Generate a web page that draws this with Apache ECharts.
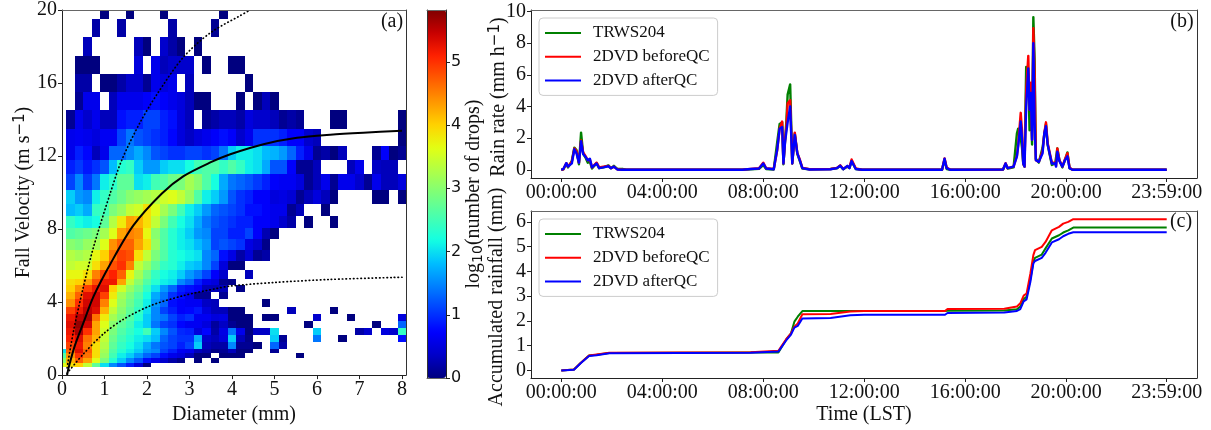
<!DOCTYPE html>
<html>
<head>
<meta charset="utf-8">
<title>2DVD rain</title>
<script src="https://cdn.jsdelivr.net/npm/echarts@6/dist/echarts.min.js"></script>
<style>
html, body { margin: 0; padding: 0; background: #fff; }
#main { width: 1211px; height: 430px; }
</style>
</head>
<body>
<div id="main"></div>
<script>
const _ = null;

// bin edges of panel (a)
const diamEdges = [-0.1, 0.1, 0.3, 0.5, 0.7, 0.9, 1.1, 1.3, 1.5, 1.7, 1.9, 2.1, 2.3, 2.5, 2.7, 2.9, 3.1, 3.3, 3.5, 3.7, 3.9, 4.1,
    4.3, 4.5, 4.7, 4.9, 5.1, 5.3, 5.5, 5.7, 5.9, 6.1, 6.3, 6.5, 6.7, 6.9, 7.1, 7.3, 7.5, 7.7, 7.9, 8.1];
const velEdges = [20, 19.5, 18.5, 17.5, 16.5, 15.5, 14.5, 13.48, 12.57, 11.78, 11.0, 10.16, 9.4, 8.73, 8.08, 7.46, 6.85, 6.27,
    5.74, 5.29, 4.93, 4.55, 4.15, 3.73, 3.37, 2.97, 2.57, 2.17, 1.8, 1.43, 1.2, 0.95, 0.67, 0.43];

// log10(number of drops), top row first, one column per diameter bin
const heatRows = [
    [_, _,_,_,_,0,_,_,0,_,_, _,0,_,_,_,_,_,_,0,_, _,_,_,_,_,_,_,_,_,_, _,_,_,_,_,_,_,_,_,_],
    [_, _,_,_,.2,_,_,.2,_,_,_, _,_,.2,_,_,_,_,.1,_,_, _,_,_,_,_,_,_,_,_,_, _,_,_,_,_,_,_,_,_,_],
    [_, _,_,.3,_,_,_,_,_,.3,0, _,.4,.2,0,_,0,_,_,_,_, _,_,_,_,_,_,_,_,_,_, _,_,_,_,_,_,_,_,_,_],
    [_, _,0,0,0,_,_,_,_,.5,_, .6,.3,.4,.4,.4,_,0,_,_,0, 0,_,_,_,_,_,_,_,_,_, _,_,_,_,_,_,_,_,_,_],
    [_, _,.2,.2,_,0,0,.2,.4,.4,.1, .6,.5,.6,_,.3,_,_,_,_,_, _,0,_,_,_,_,_,_,_,_, _,_,_,_,_,_,_,_,_,_],
    [_, _,.1,.6,.6,_,.3,.6,.6,.6,.7, .8,.7,.6,.5,.3,0,0,_,_,_, 0,_,0,.3,0,_,_,_,_,_, _,_,_,_,_,_,_,_,_,_],
    [_, .1,.6,.4,.6,.3,.3,.8,.9,.9,1.1, 1.1,.9,.8,.5,.3,_,.1,.2,.3,.3, .2,.5,.4,.4,.3,.1,.2,.1,_,_, _,0,0,_,_,_,_,_,_,0],
    [_, .6,.65,.6,.5,.65,.65,1.1,1.4,1.2,1.1, 1,.9,.75,.5,.35,.5,.6,.7,.8,.7, .4,.6,1,1,1,.9,.7,.7,.4,.3, _,_,_,_,_,_,_,_,_,0],
    [_, .6,.9,.75,.3,.6,1.3,1.3,1.5,1.7,1.5, 1.2,1.1,1,1,1.1,1.1,1,1.1,1.4,1.9, 2.1,2.1,2,1.8,1.75,1.6,1.3,.9,.6,.1, .2,0,.3,_,_,_,.1,.7,0,.1],
    [_, .9,1.05,.85,1,1.2,1.8,2.3,2.4,1.9,1.6, 1.6,1.9,2,2,2.2,2.5,2.6,2.6,2.4,2.6, 2.4,2.1,2,1.7,1.2,1.2,.7,.1,.1,.3, _,_,_,.3,.6,_,.35,.3,.3,_],
    [_, 1.1,1.5,1.05,1.4,2.1,2.35,2.7,2.7,2,2.1, 2.5,2.6,2.8,2.9,3.2,3,2.6,2.2,1.7,1.4, 1.3,1.2,1.05,.9,.7,.65,.65,.5,.1,.3, .6,.1,.6,.6,.4,.1,.6,.3,.3,.5],
    [_, 1.9,1.6,1.5,2.1,2.4,2.6,2.8,3,3.1,3.2, 3.3,3.5,3.6,3.4,3.1,2.6,2.1,1.9,1.6,1.2, 1,.9,.7,.7,.5,.55,.45,.1,.3,.5, .3,0,_,_,_,_,0,0,_,0],
    [_, 1.8,1.9,1.7,2.4,2.5,2.9,3.1,3.4,3.5,3.9, 3.6,3.2,2.9,2.5,2.1,1.9,1.6,1.3,1.2,1.1, 1,.8,.8,.7,.6,.6,.1,.3,_,_, 0,_,_,_,_,_,_,_,_,_],
    [_, 2.4,2.2,2.1,2.2,2.7,3.3,3.8,4.3,4.2,3.9, 3.4,2.9,2.5,2.2,2,1.7,1.4,1.2,1.1,1, .9,.9,.7,.7,.6,.4,.2,_,0,_, _,0,_,_,_,_,_,_,_,_],
    [_, 2.6,2.7,2.8,2.9,3.2,3.6,4.3,4.5,4.4,3.7, 3,2.6,2.3,2.1,1.9,1.6,1.5,1.1,1.1,.9, .9,1.1,.7,.25,0,_,_,_,_,_, _,_,_,_,_,_,_,_,_,_],
    [_, 3,2.9,3.1,3.2,3.6,4.4,4.7,4.7,4.3,3.9, 3.1,2.6,2.3,2.1,2,1.8,1.6,1.1,1.2,1.1, 1,.55,.4,.05,_,_,_,_,_,_, _,_,_,_,_,_,_,_,_,_],
    [_, 3.3,3.2,3.3,3.7,4,4.6,4.9,4.8,3.9,3.4, 2.9,2.6,2.3,2.2,2.1,2,1.5,1.3,.8,.55, .2,.45,.1,.2,_,_,_,_,_,_, _,_,_,_,_,_,_,_,_,_],
    [_, 3.4,3.5,3.5,3.9,4.3,4.8,5,4.5,3.4,3.1, 2.7,2.4,2.3,2.1,1.9,1.8,1.5,1.1,.5,0, 0,_,_,_,_,_,_,_,_,_, _,_,_,_,_,_,_,_,_,_],
    [_, 3.7,3.7,3.9,4.5,4.9,5.1,4.7,3.7,3.2,2.8, 2.4,2.2,2.1,1.9,1.6,1.4,1.1,.7,.4,_, _,.3,_,_,_,_,_,_,_,_, _,_,_,_,_,_,_,_,_,_],
    [_, 3.9,4,4.3,4.8,5.2,5.2,4.3,3.4,3,2.6, 2.3,2.1,2,1.5,1.3,.9,.6,.5,.1,.05, _,_,_,_,_,_,_,_,_,_, _,_,_,_,_,_,_,_,_,_],
    [_, 4,4.4,4.9,5.2,5.3,4,3.5,3.1,2.8,2.4, 2,1.6,1.3,.9,.8,.7,.3,.3,.3,_, .05,_,_,_,_,_,_,_,_,_, _,_,_,_,_,_,_,_,_,_],
    [_, 4.2,4.7,5.3,5.4,4.9,3.8,3.2,2.9,2.6,2.2, 1.7,1.4,1,.8,.6,.1,.1,_,.1,_, _,_,_,_,_,_,_,_,_,_, _,_,_,_,_,_,_,_,_,_],
    [_, 4.4,5,5.4,5.4,4.5,3.6,3.1,2.8,2.5,2.1, 1.6,1.3,.8,.7,.65,.65,.35,.3,_,_, _,_,_,0,_,_,_,_,_,_, _,_,_,_,_,_,_,_,_,_],
    [_, 4.9,5.2,5.5,5.3,4.2,3.4,3,2.7,2.4,2, 1.5,1.1,.9,.7,.75,.85,.5,.3,.3,0, 0,_,_,_,_,_,.3,_,_,_, _,0,_,_,_,_,_,_,_,_],
    [_, 5.2,5.5,5.6,4.6,3.8,3.2,2.9,2.6,2.3,1.9, 1.5,1.4,1.1,.9,1,.65,.65,.5,.55,0, 0,0,_,0,0,_,_,_,_,.4, _,_,_,0,_,_,_,_,_,.5],
    [_, 5.3,5.7,5.4,4.3,3.6,3,2.7,2.5,2.1,1.9, 1.4,1.1,1,.75,.65,.65,.5,.15,.35,.1, 0,0,_,_,_,_,_,_,0,_, _,_,_,_,_,_,0,_,_,1.3],
    [_, 5.2,5.6,5,4.3,3.5,2.9,2.6,2.4,2.2,2.5, 1.9,1.5,1.2,.95,.9,.5,.75,.2,.55,1.4, .6,0,.35,.35,2,_,_,_,_,1.9, _,_,_,_,.2,.4,_,.5,.4,2.4],
    [_, 5.1,5.3,4.6,4.2,3.4,2.8,2.5,2.3,2.1,2, 1.8,1.3,1.1,1,1,1.7,.4,.3,.5,1.9, .3,.05,_,_,1.9,.1,_,_,_,1.4, _,_,0,_,_,_,_,_,_,.8],
    [_, 4.9,5.2,4.5,3.9,3.3,2.7,2.4,2.2,2,1.7, 1.4,1.2,1.1,.9,1.1,1.9,.3,.2,.2,1.5, .1,.1,0,_,1.3,.2,_,_,_,_, _,_,_,_,_,_,_,_,_,_],
    [2, 4.7,5.3,4.7,3.9,3.2,2.6,2.3,2.1,1.9,1.6, 1.5,1.1,.9,.65,.6,.3,.2,.05,.1,.3, 0,0,_,_,.1,_,_,_,_,_, _,_,_,_,_,_,_,_,_,_],
    [2.6, 4.4,5,4.6,3.9,3.1,2.5,2.1,1.9,1.6,1.3, 1.1,.8,.6,.5,.3,0,0,_,0,0, 0,_,_,_,_,_,_,0,_,_, _,_,_,_,_,_,_,_,_,_],
    [3, 4.2,4.7,4.3,3.6,2.9,2.3,1.9,1.5,1.2,.8, .6,.4,.2,.05,_,0,_,0,_,_, _,_,_,_,_,_,_,_,_,_, _,_,_,_,_,_,_,_,_,_],
    [3.6, 3.9,4,3.4,2.7,2,1.5,1.2,.9,.5,0, _,_,_,_,_,_,_,_,_,_, _,_,_,_,_,_,_,_,_,_, _,_,_,_,_,_,_,_,_,_]
];

// curves over the heat map: [diameter, velocity]
const solidCurve = [[.12,0],[.155,.4],[.3,1.6],[.51,2.9],[.74,4.3],[1.14,6.1],[1.68,8.2],[2.35,9.95],[2.86,10.9],[3.49,11.65],[3.96,12.1],[4.74,12.65],[5.53,13],[6.31,13.17],[7.09,13.28],[8,13.38]];
const upperCurve = [[.12,.4],[.27,2.4],[.5,4.8],[.74,7],[1.14,10],[1.41,11.8],[1.84,13.85],[2.24,15.4],[2.85,17.4],[3.49,18.75],[4.2,19.7],[4.43,20]];
const lowerCurve = [[.12,.1],[.5,1.15],[.97,2.25],[1.44,3.05],[2.08,3.8],[2.85,4.35],[3.65,4.75],[3.96,4.88],[4.97,5.07],[6.31,5.24],[8,5.36]];

// panel (b), minutes from midnight and rain rate
const rateTime = [0,5,12,16,20,25,31,36,42,47,52,58,63,68,73,84,90,100,112,118,125,133,145,155,430,450,470,480,487,505,513,519,525,528,532,535,538,544,549,555,561,567,573,590,640,655,663,670,680,685,690,700,715,905,911,916,925,1050,1056,1061,1075,1083,1086,1092,1095,1098,1101,1105,1110,1113,1116,1119,1122,1125,1128,1135,1144,1148,1152,1156,1158,1166,1174,1176,1179,1184,1191,1197,1203,1208,1215,1439];
const rateTrws = [0,.03,.38,.15,.1,.55,1.4,1.25,.35,2.35,1,.75,.45,.5,.08,.42,.1,.15,.28,.1,.25,.05,.06,0,0,.03,.06,.3,.05,.02,1.7,2.9,3,.35,1.9,3.1,4.75,5.4,.4,2.3,1,.55,.08,.03,.05,.1,.25,.03,.2,.12,.55,.05,0,0,.65,.05,0,.02,.35,.08,.15,2.3,2.6,2,1.4,.4,.2,6.5,6,2.5,4.5,1.6,9.65,7,.7,.45,1.4,2.2,2.9,1.6,1.6,.3,.4,.3,1.35,.6,.15,.6,1.1,.1,0,0];
const rateBefore = [0,.03,.42,.2,.1,.5,1.35,1.2,.45,1.85,1.1,.85,.6,.65,.15,.45,.15,.2,.25,.1,.2,.03,0,0,0,.06,.1,.45,.1,.05,1.2,2.6,3.05,.4,1.9,2.7,4.2,4.4,.4,2.35,1.05,.65,.12,.03,.05,.12,.28,.05,.22,.15,.65,.08,0,0,.72,.15,0,.02,.42,.1,.2,.9,1.6,3.6,2.5,.4,.2,5,7.2,3.8,5.5,1.9,8.95,6,.6,.5,1.2,2.3,3,1.7,1.65,.45,.45,.25,1.35,.6,.2,.65,1.05,.15,0,0];
const rateAfter = [0,.05,.42,.2,.1,.4,1.3,1.05,.45,1.8,1,.8,.6,.7,.15,.4,.1,.15,.22,.1,.2,.02,0,0,0,.05,.08,.4,.08,.03,1.25,2.6,2.7,.4,1.8,2.4,3,4,.4,2.2,1.05,.6,.1,.02,.03,.1,.25,.03,.25,.1,.55,.05,0,0,.7,.1,0,.02,.4,.1,.2,.85,1.5,3.05,2,.4,.2,4,6.4,3.8,4.85,1.9,8,3,.6,.5,1.05,2.3,2.75,1.6,1.6,.4,.4,.2,1.15,.55,.2,.6,.85,.1,0,0];

// panel (c), accumulated rainfall
const accTime = [0,30,46,66,84,114,450,516,534,546,554,562,573,640,687,720,912,918,1053,1083,1091,1099,1106,1115,1122,1126,1142,1151,1166,1183,1193,1205,1217,1439];
const accTrws = [0,.04,.3,.6,.63,.7,.72,.72,1.23,1.5,1.97,2.17,2.4,2.4,2.4,2.4,2.4,2.41,2.42,2.47,2.58,2.88,2.98,3.69,4.39,4.55,4.68,4.93,5.33,5.46,5.57,5.66,5.77,5.77];
const accBefore = [0,.04,.3,.6,.64,.71,.73,.79,1.25,1.5,1.77,1.9,2.27,2.28,2.38,2.4,2.4,2.48,2.49,2.58,2.71,3.02,3.11,3.92,4.66,4.86,4.99,5.19,5.66,5.8,5.93,6,6.11,6.11];
const accAfter = [0,.03,.29,.58,.61,.69,.71,.76,1.2,1.45,1.73,1.8,2.1,2.12,2.23,2.25,2.25,2.32,2.34,2.4,2.48,2.79,2.87,3.58,4.32,4.42,4.55,4.75,5.17,5.3,5.42,5.52,5.58,5.58];

const seriesNames = ['TRWS204', '2DVD beforeQC', '2DVD afterQC'];
const seriesColors = ['#008000', '#ff0000', '#0000ff'];

// ticks
const diamTicks = [0, 1, 2, 3, 4, 5, 6, 7, 8];
const velTicks = [0, 4, 8, 12, 16, 20];
const barTicks = [0, 1, 2, 3, 4, 5];
const rateTicks = [0, 2, 4, 6, 8, 10];
const accTicks = [0, 1, 2, 3, 4, 5, 6];
const timeTicks = [0, 240, 480, 720, 960, 1200, 1439];
const timeLabels = ['00:00:00', '04:00:00', '08:00:00', '12:00:00', '16:00:00', '20:00:00', '23:59:00'];

// matplotlib jet
const jet = ['#00007f','#0000c8','#0000ff','#0040ff','#0080ff','#00bfff','#14ffe2','#48ffaf','#7bff7b','#afff48','#e2ff14','#ffd200','#ff9700','#ff5c00','#ff2100','#c80000','#7f0000'];

const serif = '"Liberation Serif", "Times New Roman", serif';
const ink = '#111';

let cells = [];
heatRows.forEach(function (row, r) {
    row.forEach(function (v, c) {
        if (v !== null) {
            cells.push([diamEdges[c], diamEdges[c + 1], velEdges[r + 1], velEdges[r], v]);
        }
    });
});

function zip(xs, ys) {
    return xs.map(function (x, i) { return [x, ys[i]]; });
}

const grids = [
    { left: 62, top: 10, width: 344, height: 368 },
    { left: 427, top: 10, width: 19, height: 368 },
    { left: 531, top: 10, width: 666, height: 168 },
    { left: 531, top: 211, width: 666, height: 167 }
];

function mainX(gridIndex, min, max, ticks, labels, name, nameGap) {
    return {
        type: 'value', gridIndex: gridIndex, min: min, max: max, z: 5, splitLine: { show: false },
        name: name, nameLocation: 'middle', nameGap: nameGap,
        nameTextStyle: { fontFamily: serif, fontSize: 20, color: ink },
        axisLine: { show: true, onZero: false, lineStyle: { color: '#222' } },
        axisTick: { show: true, length: 4, customValues: ticks, lineStyle: { color: '#222' } },
        axisLabel: {
            show: true, customValues: ticks, margin: 5, fontFamily: serif, fontSize: 20, color: ink,
            showMinLabel: true, showMaxLabel: true,
            formatter: function (v) {
                if (!labels) return v;
                return labels[ticks.indexOf(v)];
            }
        }
    };
}

function mainY(gridIndex, min, max, ticks, name, nameGap, namePadding, font, position) {
    return {
        type: 'value', gridIndex: gridIndex, min: min, max: max, z: 5, position: position || 'left',
        splitLine: { show: false },
        name: name, nameLocation: 'middle', nameGap: nameGap, nameMoveOverlap: false,
        nameTextStyle: { fontFamily: serif, fontSize: 20, color: ink, rich: richText, padding: namePadding },
        axisLine: { show: true, onZero: false, lineStyle: { color: '#222' } },
        axisTick: { show: true, length: 4, customValues: ticks, lineStyle: { color: '#222' } },
        axisLabel: {
            show: true, customValues: ticks, margin: 5, fontFamily: font || serif,
            fontSize: font ? 16 : 20, color: ink
        }
    };
}

// the far sides of the frame
function frameX(gridIndex) {
    return {
        type: 'value', gridIndex: gridIndex, position: 'top', min: 0, max: 1, z: 5,
        splitLine: { show: false }, axisTick: { show: false }, axisLabel: { show: false },
        axisLine: { show: true, onZero: false, lineStyle: { color: '#666' } }
    };
}
function frameY(gridIndex, position) {
    return {
        type: 'value', gridIndex: gridIndex, position: position, min: 0, max: 1, z: 5,
        splitLine: { show: false }, axisTick: { show: false }, axisLabel: { show: false },
        axisLine: { show: true, onZero: false, lineStyle: { color: '#333' } }
    };
}

const richText = {
    t: { fontFamily: serif, fontSize: 20, color: ink, lineHeight: 24 },
    sup: { fontFamily: '"DejaVu Sans", sans-serif', fontSize: 15, color: ink, padding: [0, 0, 8, 0], lineHeight: 24 },
    sub: { fontFamily: '"DejaVu Sans", sans-serif', fontSize: 14, color: ink, padding: [8, 0, 0, 0], lineHeight: 24 }
};

const xAxes = [
    mainX(0, 0, 8.094, diamTicks, null, 'Diameter (mm)', 27), frameX(0),
    Object.assign(frameX(1), { position: 'bottom' }), frameX(1),
    mainX(2, -72, 1511, timeTicks, timeLabels, '', 0), frameX(2),
    mainX(3, -72, 1511, timeTicks, timeLabels, 'Time (LST)', 27), frameX(3)
];
const yAxes = [
    mainY(0, 0, 20, velTicks, '{t|Fall Velocity (m s}{sup|\u22121}{t|)}', 26), frameY(0, 'right'),
    mainY(1, 0, 5.82, barTicks, '{t|log}{sub|10}{t|(number of drops)}', 16, undefined, '"DejaVu Sans", sans-serif', 'right'), frameY(1, 'left'),
    mainY(2, -0.52, 10.1, rateTicks, '{t|Rain rate (mm h}{sup|\u22121}{t|)}', 20, [0, 6, 0, 0]), frameY(2, 'right'),
    mainY(3, -0.306, 6.44, accTicks, 'Accumulated rainfall (mm)', 24, [0, 5, 0, 0]), frameY(3, 'right')
];

function lineSeries(name, color, data, axisIndex, width) {
    return {
        type: 'line', name: name, data: data, xAxisIndex: axisIndex, yAxisIndex: axisIndex,
        symbol: 'none', showSymbol: false, silent: true, animation: false,
        itemStyle: { color: color },
        lineStyle: { color: color, width: width, join: 'round' }
    };
}

function curveSeries(data, dotted) {
    return {
        type: 'line', data: data, xAxisIndex: 0, yAxisIndex: 0, smooth: 0.3, z: 3,
        symbol: 'none', showSymbol: false, silent: true, animation: false, clip: true,
        lineStyle: dotted
            ? { color: '#000', width: 1.7, type: [0.5, 3.2], cap: 'round' }
            : { color: '#000', width: 2 }
    };
}

function legendAt(top) {
    return {
        data: seriesNames, left: 539, top: top, orient: 'vertical', selectedMode: false,
        icon: 'rect', itemWidth: 36, itemHeight: 2, itemGap: 5.7, padding: [6, 8, 6, 6],
        lineStyle: { width: 1.8 },
        backgroundColor: 'rgba(255,255,255,0.8)', borderColor: '#ccc', borderWidth: 1, borderRadius: 4,
        textStyle: { fontFamily: serif, fontSize: 17, color: ink, padding: [0, 0, 0, 7], lineHeight: 18 }
    };
}

function panelTag(text, x, y) {
    return {
        type: 'text', x: x, y: y, z: 20,
        style: { text: text, fontFamily: serif, fontSize: 20, fill: ink, textAlign: 'center', textVerticalAlign: 'middle' }
    };
}

const chart = echarts.init(document.getElementById('main'), null, { renderer: 'canvas' });
chart.setOption({
    animation: false,
    backgroundColor: '#fff',
    grid: grids,
    xAxis: xAxes,
    yAxis: yAxes,
    legend: [legendAt(18), legendAt(219)],
    visualMap: {
        type: 'continuous', show: true, seriesIndex: 0, dimension: 4, min: 0, max: 5.82,
        left: 427, top: 10, itemWidth: 19, itemHeight: 368, padding: 0, calculable: false, realtime: false,
        inRange: { color: jet }
    },
    graphic: [panelTag('(a)', 392, 22), panelTag('(b)', 1182, 22), panelTag('(c)', 1181, 222)],
    series: [
        {
            type: 'custom', data: cells, xAxisIndex: 0, yAxisIndex: 0, clip: true, silent: true, animation: false,
            dimensions: ['d0', 'd1', 'v0', 'v1', 'n'],
            encode: { x: [0, 1], y: [2, 3] },
            renderItem: function (params, api) {
                const a = api.coord([api.value(0), api.value(3)]);
                const b = api.coord([api.value(1), api.value(2)]);
                const x = Math.round(a[0]), y = Math.round(a[1]);
                return {
                    type: 'rect',
                    shape: { x: x, y: y, width: Math.round(b[0]) - x, height: Math.round(b[1]) - y },
                    style: { fill: api.visual('color') }
                };
            }
        },
        curveSeries(solidCurve, false),
        curveSeries(upperCurve, true),
        curveSeries(lowerCurve, true),
        lineSeries(seriesNames[0], seriesColors[0], zip(rateTime, rateTrws), 4, 2.4),
        lineSeries(seriesNames[1], seriesColors[1], zip(rateTime, rateBefore), 4, 2.4),
        lineSeries(seriesNames[2], seriesColors[2], zip(rateTime, rateAfter), 4, 2.4),
        lineSeries(seriesNames[0], seriesColors[0], zip(accTime, accTrws), 6, 2),
        lineSeries(seriesNames[1], seriesColors[1], zip(accTime, accBefore), 6, 2),
        lineSeries(seriesNames[2], seriesColors[2], zip(accTime, accAfter), 6, 2)
    ]
});
</script>
</body>
</html>
